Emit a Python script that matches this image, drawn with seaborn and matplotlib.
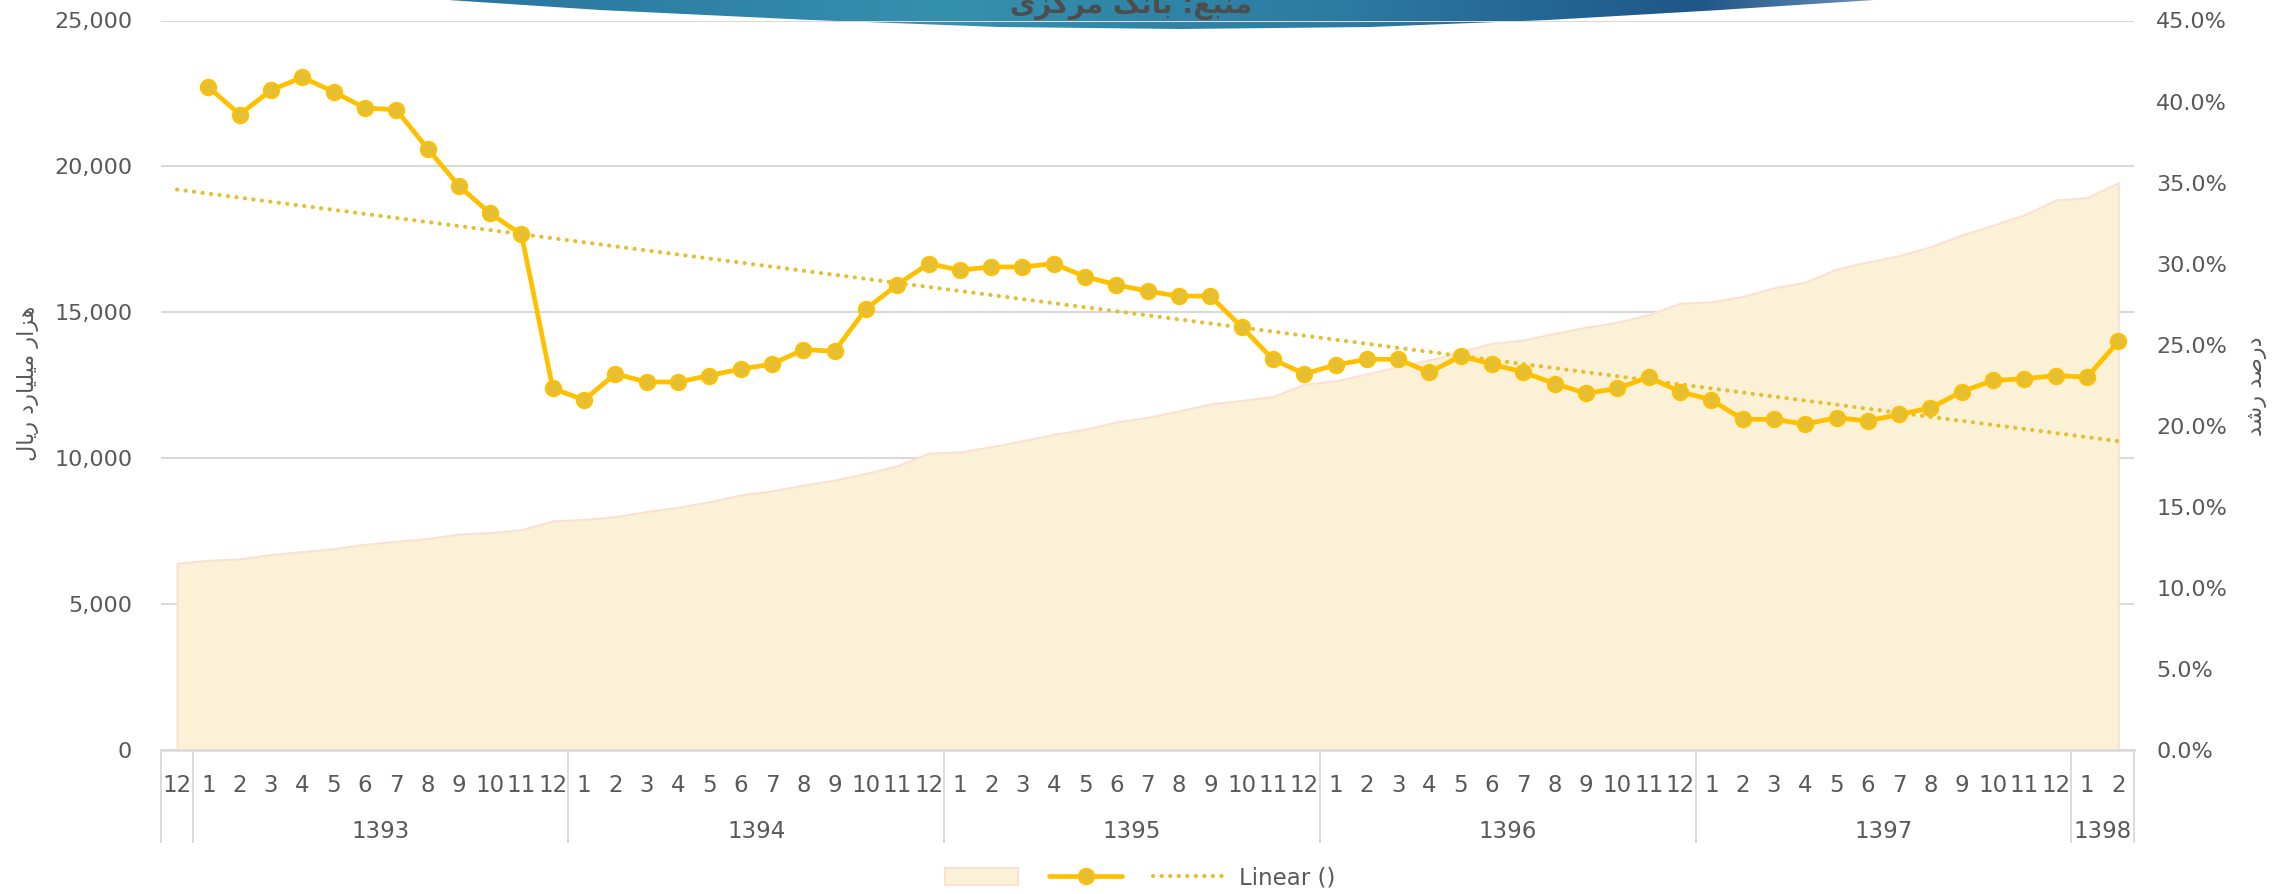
import numpy as np
import pandas as pd
import matplotlib
matplotlib.use('Agg')
import matplotlib.pyplot as plt
import seaborn as sns
from matplotlib.colors import LinearSegmentedColormap
from matplotlib.patches import Polygon, Patch
from matplotlib.lines import Line2D

# ---------------- data ----------------
MONTHS = ['12'] + [str(m) for m in range(1, 13)] * 5 + ['1', '2']
YEARS = ['1393', '1394', '1395', '1396', '1397', '1398']
YEAR_FIRST = [1, 13, 25, 37, 49, 61]
YEAR_LAST = [12, 24, 36, 48, 60, 62]

# total (thousand billion rials), one value per month from 1392/12 to 1398/2
AMOUNT = [6400, 6500, 6550, 6700, 6800, 6900, 7050, 7150, 7250, 7400, 7450, 7550,
          7850, 7900, 8000, 8170, 8320, 8510, 8740, 8880, 9080, 9250, 9480, 9740,
          10170, 10220, 10390, 10600, 10820, 10990, 11240, 11400, 11620, 11860, 11980, 12110,
          12540, 12650, 12890, 13140, 13370, 13650, 13940, 14050, 14280, 14490, 14660, 14920,
          15310, 15360, 15540, 15840, 16030, 16480, 16730, 16940, 17250, 17650, 17990, 18340,
          18850, 18930, 19440]

# yearly growth (%), from 1393/1 to 1398/2
GROWTH = [40.9, 39.2, 40.7, 41.5, 40.6, 39.6, 39.5, 37.1, 34.8, 33.1, 31.8,
          22.3, 21.6, 23.2, 22.7, 22.7, 23.1, 23.5, 23.8, 24.7, 24.6, 27.2, 28.7, 30.0,
          29.6, 29.8, 29.8, 30.0, 29.2, 28.7, 28.3, 28.0, 28.0, 26.1, 24.1, 23.2,
          23.75, 24.1, 24.1, 23.3, 24.3, 23.8, 23.3, 22.6, 22.0, 22.3, 23.0, 22.1,
          21.6, 20.4, 20.4, 20.1, 20.5, 20.3, 20.7, 21.1, 22.1, 22.8, 22.9, 23.1,
          23.0, 25.2]

# Persian texts (presentation forms, visual order)
YLABEL_LEFT = '\uFEDD\uFE8E\uFBFE\uFEAD \uFEA9\uFEAD\uFE8E\uFBFF\uFEE0\uFBFF\uFEE3 \uFEAD\uFE8D\uFEB0\uFEEB'
YLABEL_RIGHT = '\uFEAA\uFEB7\uFEAD \uFEAA\uFEBB\uFEAD\uFEA9'
SOURCE = '\uFBFC\uFEB0\uFB90\uFEAE\uFEE3 \uFB8F\uFEE7\uFE8E\uFE91 :\uFECA\uFE92\uFEE8\uFEE3'

# ---------------- style ----------------
W, H = 2293, 894
TXT = '#595959'
GRID = '#D9D9D9'
AREA_FILL = '#FAF1D6'
AREA_EDGE = '#FBE1D2'
GOLD = '#FFC000'
MARKER = '#E6BE32'
TREND = '#E6BE32'
DOTS = (0, (0.05, 2.0))

sns.set_theme(style='white')
plt.rcParams['font.family'] = ['DejaVu Sans']

df_amt = pd.DataFrame({'x': np.arange(len(AMOUNT)), 'amount': AMOUNT})
df_gr = pd.DataFrame({'x': np.arange(1, len(GROWTH) + 1), 'growth': GROWTH})

# linear trendline of the growth series
coef = np.polyfit(df_gr['x'], df_gr['growth'], 1)
df_tr = pd.DataFrame({'x': np.arange(len(AMOUNT))})
df_tr['trend'] = np.polyval(coef, df_tr['x'])

fig = plt.figure(figsize=(W / 100, H / 100), dpi=100)
fig.patch.set_facecolor('white')

# ---- top banner (background) ----
axb = fig.add_axes([0, 0, 1, 1], zorder=-1)
axb.set_xlim(0, W)
axb.set_ylim(H, 0)
axb.axis('off')
bx = [448, 600, 811, 1000, 1180, 1370, 1548, 1720, 1874]
by = [0, 10, 20, 27, 29, 27, 20, 10, 0]
poly = Polygon(list(zip(bx, by)), closed=True, facecolor='none', edgecolor='none')
axb.add_patch(poly)
grad_cmap = LinearSegmentedColormap.from_list(
    'banner', [(0, '#2a74a0'), (0.35, '#3590ad'), (0.62, '#2c7ca2'), (0.88, '#1f5688'), (1, '#6a8fb8')])
grad = np.linspace(0, 1, 512).reshape(1, -1)
im = axb.imshow(grad, cmap=grad_cmap, extent=(448, 1874, 30, -1), aspect='auto')
im.set_clip_path(poly)
axb.text(1131, 13, SOURCE, ha='center', va='baseline', fontsize=20,
         fontweight='bold', color='#4d4d4d', family=['DejaVu Sans'])

# ---- main axes ----
ax = fig.add_axes([161.4 / W, 1 - 750 / H, (2134 - 161.4) / W, (750 - 20.5) / H])
ax.set_facecolor('none')
ax.fill_between(df_amt['x'], df_amt['amount'], 0, facecolor=AREA_FILL,
                edgecolor=AREA_EDGE, linewidth=1.5, zorder=1)
ax.set_xlim(-0.5, len(AMOUNT) - 0.5)
ax.set_ylim(0, 25000)
ax.set_yticks(np.arange(0, 25001, 5000))
ax.set_yticklabels([f'{v:,}' for v in range(0, 25001, 5000)])
ax.grid(axis='y', color=GRID, linewidth=1.5)
ax.grid(axis='x', visible=False)
ax.set_axisbelow(True)
for s in ['top', 'right', 'left']:
    ax.spines[s].set_visible(False)
ax.spines['bottom'].set_color(GRID)
ax.spines['bottom'].set_linewidth(1.8)
ax.spines['bottom'].set_zorder(3)
ax.set_xticks(df_amt['x'])
ax.set_xticklabels(MONTHS)
ax.tick_params(axis='x', length=0, pad=17, labelsize=16.5, labelcolor=TXT)
ax.tick_params(axis='y', length=0, pad=21, labelsize=16, labelcolor=TXT)
ax.set_xlabel('')
ax.set_ylabel('')

# two-level category axis: separators and year labels
xt = ax.get_xaxis_transform()
seps = [-0.5, 0.5] + [last + 0.5 for last in YEAR_LAST]
ax.vlines(seps, -0.1275, 0, transform=xt, clip_on=False, color=GRID, linewidth=1.3)
for yr, a, b in zip(YEARS, YEAR_FIRST, YEAR_LAST):
    ax.text((a + b) / 2, -0.0957, yr, transform=xt, ha='center', va='top',
            fontsize=16.5, color=TXT)

# ---- secondary axis: growth ----
ax2 = ax.twinx()
sns.lineplot(data=df_tr, x='x', y='trend', ax=ax2, color=TREND, linewidth=3.0,
             linestyle=DOTS, dash_capstyle='round', zorder=3)
sns.lineplot(data=df_gr, x='x', y='growth', ax=ax2, color=GOLD, linewidth=3.4,
             marker='o', markersize=11, markerfacecolor=MARKER,
             markeredgecolor=GOLD, markeredgewidth=1.5, zorder=4)
ax2.set_ylim(0, 45)
ax2.set_yticks(np.arange(0, 45.1, 5))
ax2.set_yticklabels([f'{v:.1f}%' for v in np.arange(0, 45.1, 5)])
ax2.tick_params(axis='y', length=0, pad=16, labelsize=16, labelcolor=TXT)
ax2.grid(False)
for s in ax2.spines.values():
    s.set_visible(False)
ax2.set_xlabel('')
ax2.set_ylabel('')

# axis titles
fig.text(28 / W, 1 - 383 / H, YLABEL_LEFT, rotation=90, ha='center', va='center',
         fontsize=16, color=TXT)
fig.text(2257 / W, 1 - 386 / H, YLABEL_RIGHT, rotation=90, ha='center', va='center',
         fontsize=16, color=TXT)

# legend
handles = [
    Patch(facecolor=AREA_FILL, edgecolor=AREA_EDGE, linewidth=1.5),
    Line2D([0], [0], color=GOLD, linewidth=3.4, marker='o', markersize=11,
           markerfacecolor=MARKER, markeredgecolor=GOLD, markeredgewidth=1.5),
    Line2D([0], [0], color=TREND, linewidth=3.0, linestyle=DOTS,
           dash_capstyle='round'),
]
fig.legend(handles, ['', '', 'Linear ()'], loc='center', ncol=3,
           bbox_to_anchor=(1140 / W, 1 - 878 / H), frameon=False,
           fontsize=16.5, labelcolor=TXT, handlelength=3.2, handleheight=0.7,
           handletextpad=0.55, columnspacing=0.8)

fig.savefig('out.png', dpi=100, facecolor='white')
